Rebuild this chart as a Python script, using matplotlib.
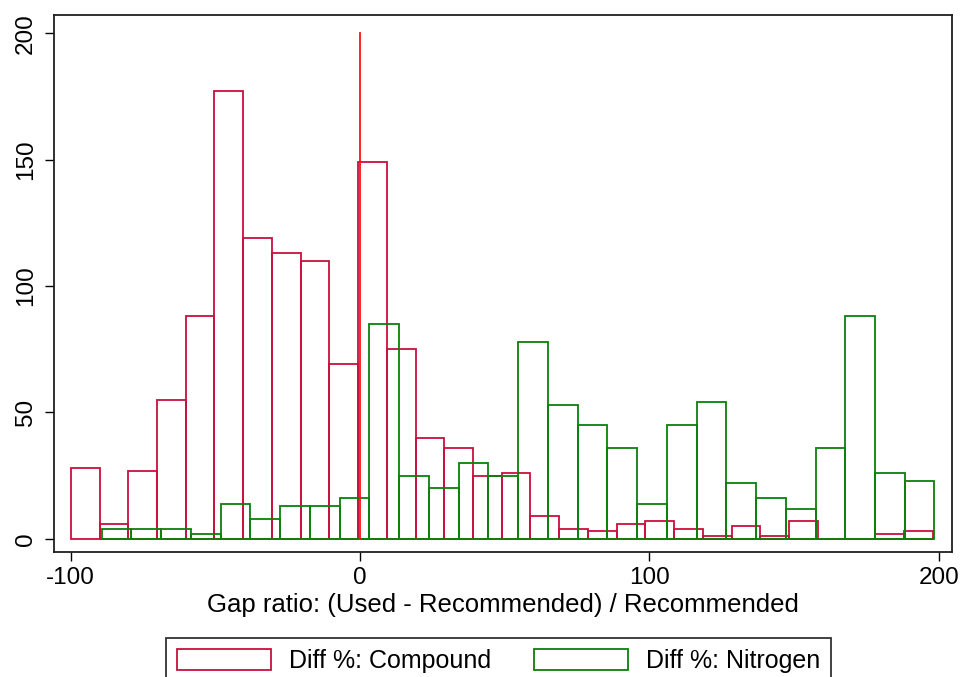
import numpy as np
import matplotlib
matplotlib.use("Agg")
import matplotlib.pyplot as plt
from matplotlib.patches import Patch

plt.rcParams['font.family'] = ['Liberation Sans', 'DejaVu Sans']
plt.rcParams['axes.unicode_minus'] = False

# Histogram counts per bin
compound_counts = [28, 6, 27, 55, 88, 177, 119, 113, 110, 69,
                   149, 75, 40, 36, 25, 26, 9, 4, 3, 6,
                   7, 4, 1, 5, 1, 7, 0, 0, 2, 3]
nitrogen_counts = [4, 4, 4, 2, 14, 8, 13, 13, 16, 85,
                   25, 20, 30, 25, 78, 53, 45, 36, 14, 45,
                   54, 22, 16, 12, 36, 88, 26, 23]

# Bin layout of each histogram (start of first bin, bin width)
compound_start, compound_width = -100.0, 9.93
nitrogen_start, nitrogen_width = -89.3, 10.28

x_ticks = [-100, 0, 100, 200]
y_ticks = [0, 50, 100, 150, 200]
reference_x = 0
reference_top = 200

series_labels = ["Diff %: Compound", "Diff %: Nitrogen"]
x_label = "Gap ratio: (Used - Recommended) / Recommended"

c_compound = "#C8103E"
c_nitrogen = "#0A800A"
c_ref = "#FF1010"

W, H = 963, 677
fig = plt.figure(figsize=(W / 100, H / 100), dpi=100)
left, right, top, bottom = 54, 952.3, 15, 552.3
ax = fig.add_axes([left / W, 1 - bottom / H, (right - left) / W, (bottom - top) / H])

c_edges = compound_start + compound_width * np.arange(len(compound_counts))
n_edges = nitrogen_start + nitrogen_width * np.arange(len(nitrogen_counts))

ax.bar(c_edges, compound_counts, width=compound_width, align='edge',
       fill=False, edgecolor=c_compound, linewidth=1.3, zorder=2)
ax.bar(n_edges, nitrogen_counts, width=nitrogen_width, align='edge',
       fill=False, edgecolor=c_nitrogen, linewidth=1.3, zorder=2)
ax.plot([reference_x, reference_x], [0, reference_top], color=c_ref,
        linewidth=1.3, zorder=3)

ax.set_xlim(-105.8, 204.7)
ax.set_ylim(-5.3, 207.2)
ax.set_xticks(x_ticks)
ax.set_yticks(y_ticks)
ax.tick_params(axis='both', direction='out', length=6.5, width=1.0,
               labelsize=17.5, colors='black')
ax.tick_params(axis='x', pad=4)
ax.tick_params(axis='y', pad=6)
for lab in ax.get_yticklabels():
    lab.set_rotation(90)
    lab.set_va('center')
for s in ax.spines.values():
    s.set_linewidth(1.3)
    s.set_color('#202020')

ax.set_xlabel(x_label, fontsize=18.5, labelpad=3)

handles = [Patch(facecolor='white', edgecolor=c_compound, linewidth=1.3, label=series_labels[0]),
           Patch(facecolor='white', edgecolor=c_nitrogen, linewidth=1.3, label=series_labels[1])]
leg = fig.legend(handles=handles, loc='upper left', bbox_to_anchor=(166 / W, 1 - 638 / H),
                 ncol=2, fontsize=18, frameon=True, fancybox=False,
                 edgecolor='black', handlelength=3.76, handleheight=0.92,
                 handletextpad=0.72, columnspacing=1.72, borderpad=0.43,
                 borderaxespad=0)
leg.get_frame().set_linewidth(1.3)

fig.savefig("out.png", dpi=100)
